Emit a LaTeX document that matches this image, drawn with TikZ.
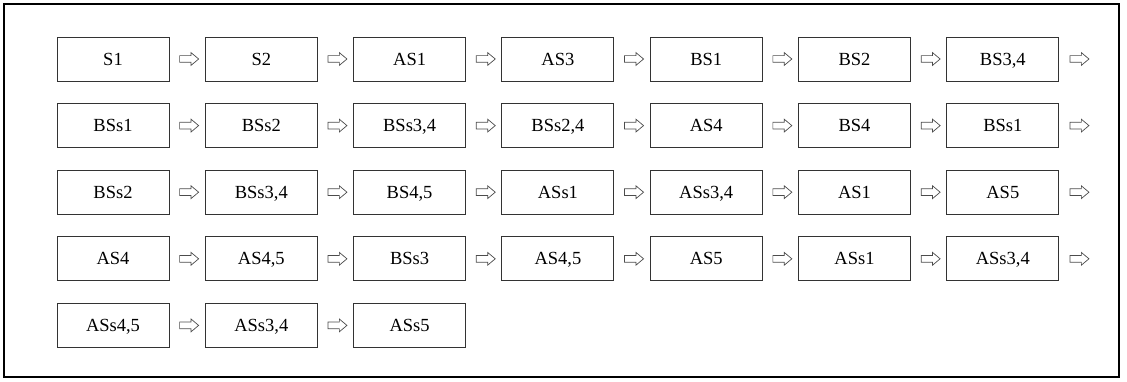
\documentclass[tikz,border=0pt]{standalone}
\usepackage{fontspec}
\setmainfont{Liberation Serif}
\usetikzlibrary{shapes.arrows,calc}
\tikzset{
  stagebox/.style={draw=black!80, line width=0.9pt, minimum width=112pt, minimum height=44pt,
    inner sep=0pt, text height=12.3pt, text depth=0pt, font=\fontsize{18.5}{20}\selectfont},
  flowarrow/.style={single arrow, draw=black!70, line width=0.7pt, fill=white,
    inner sep=3pt, minimum height=19pt, single arrow head extend=3pt,
    single arrow tip angle=80, anchor=center},
  frame/.style={draw=black, line width=2.4pt}
}
\begin{document}
\begin{tikzpicture}[x=1pt,y=-1pt]
\useasboundingbox (0,0) rectangle (1127,382);
\draw[frame] (4,4) rectangle (1119,377);
% stage boxes, row by row
\foreach \t [count=\c] in {S1,S2,AS1,AS3,BS1,BS2,{BS3,4}}
  \node[stagebox] (b1-\c) at ({113+148.3*(\c-1)}, 59) {\t};
\foreach \t [count=\c] in {BSs1,BSs2,{BSs3,4},{BSs2,4},AS4,BS4,BSs1}
  \node[stagebox] (b2-\c) at ({113+148.3*(\c-1)}, 125.6) {\t};
\foreach \t [count=\c] in {BSs2,{BSs3,4},{BS4,5},ASs1,{ASs3,4},AS1,AS5}
  \node[stagebox] (b3-\c) at ({113+148.3*(\c-1)}, 192.2) {\t};
\foreach \t [count=\c] in {AS4,{AS4,5},BSs3,{AS4,5},AS5,ASs1,{ASs3,4}}
  \node[stagebox] (b4-\c) at ({113+148.3*(\c-1)}, 258.8) {\t};
\foreach \t [count=\c] in {{ASs4,5},{ASs3,4},ASs5}
  \node[stagebox] (b5-\c) at ({113+148.3*(\c-1)}, 325.4) {\t};
% arrows between consecutive boxes of a row
\foreach \r in {1,...,4}{
  \foreach \c [evaluate=\c as \d using int(\c+1)] in {1,...,6}{
    \node[flowarrow] (a\r-\c) at ($(b\r-\c.east)!0.5!(b\r-\d.west)$) {};
  }
  % arrow leading on to the next row
  \node[flowarrow] (a\r-7) at ($(b\r-7.east)+(18.2,0)$) {};
}
\node[flowarrow] (a5-1) at ($(b5-1.east)!0.5!(b5-2.west)$) {};
\node[flowarrow] (a5-2) at ($(b5-2.east)!0.5!(b5-3.west)$) {};
\end{tikzpicture}
\end{document}
